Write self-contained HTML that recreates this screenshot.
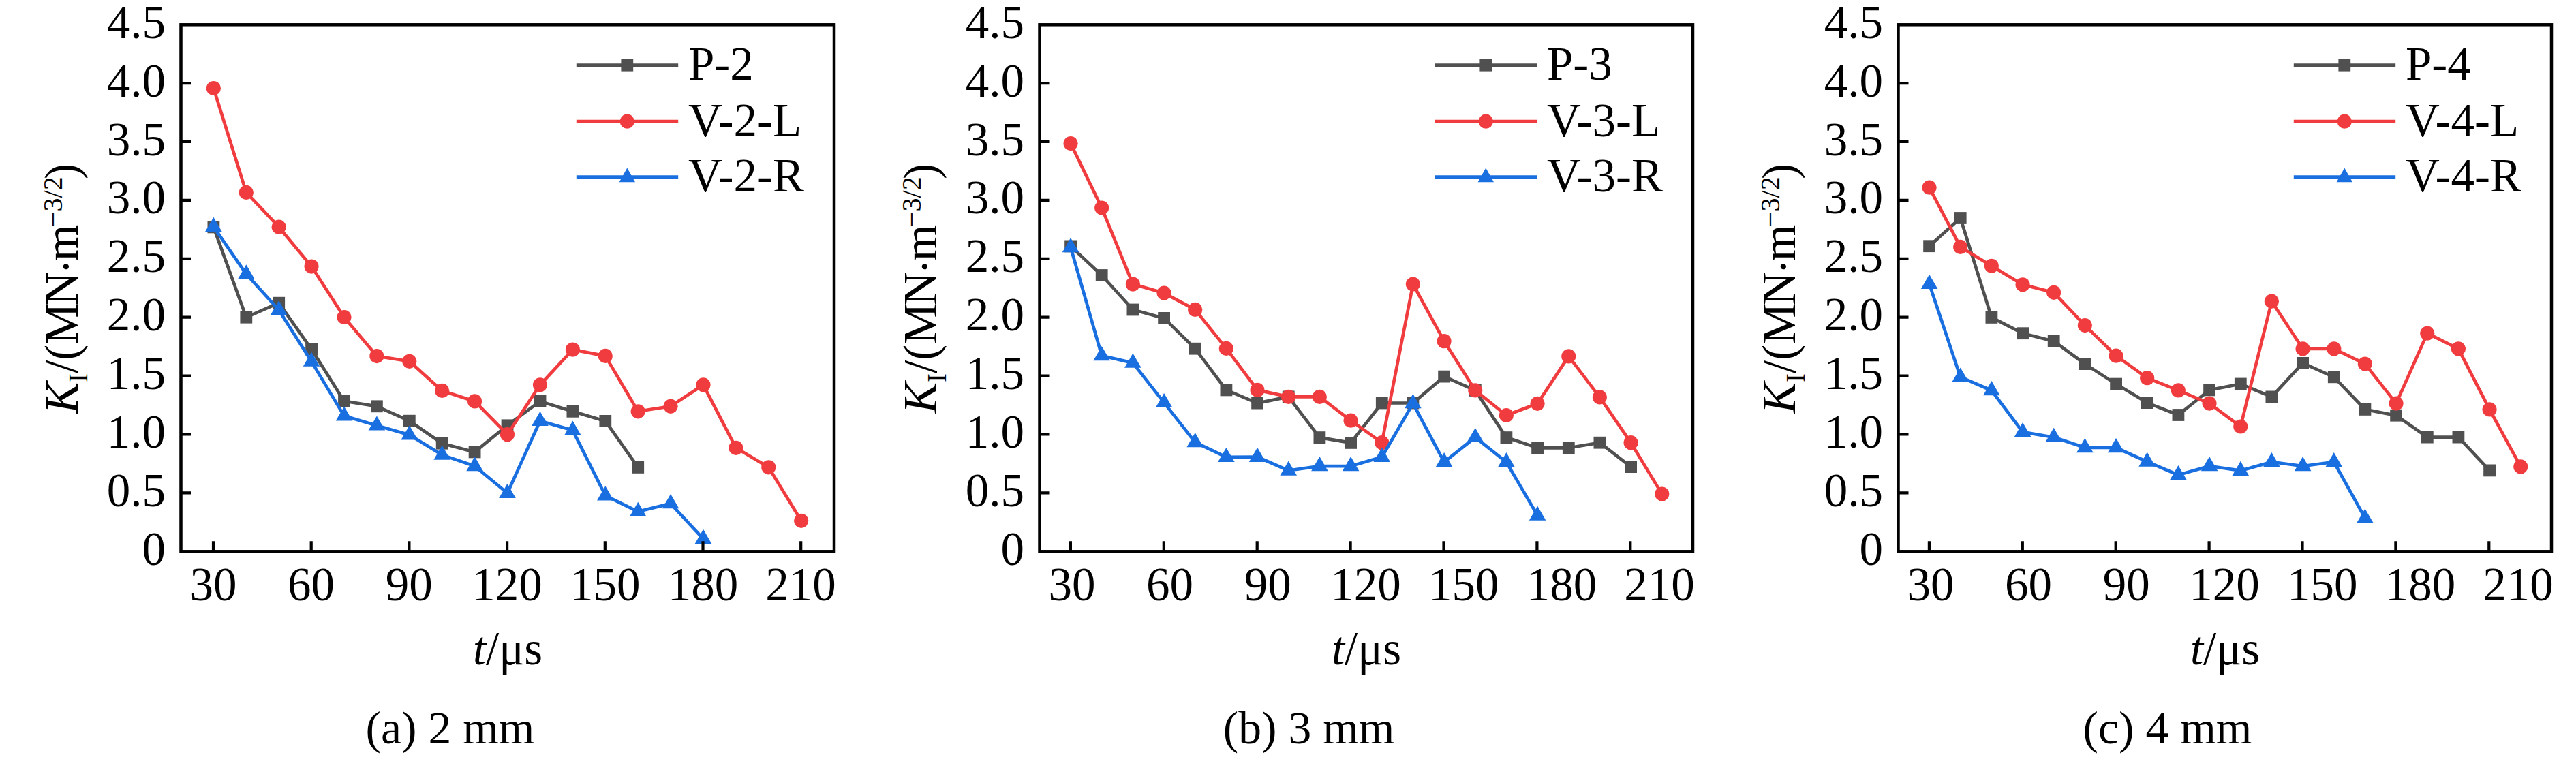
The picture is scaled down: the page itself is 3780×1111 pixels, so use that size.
<!DOCTYPE html>
<html><head><meta charset="utf-8"><style>
html,body{margin:0;padding:0;background:#fff;overflow:hidden}
svg{display:block}
text{font-family:"Liberation Serif", serif;font-size:69px;fill:#000}
</style></head><body>
<svg width="3780" height="1111" viewBox="0 0 3780 1111">
<rect width="3780" height="1111" fill="#fff"/>
<g transform="translate(0,0)">
<path d="M313.4 333.4 L361.3 465.7 L409.2 444.7 L457.1 512.6 L505 588.7 L552.9 596.3 L600.8 617.7 L648.7 650.7 L696.6 663.4 L744.5 624.3 L792.5 588.9 L840.4 603.8 L888.3 617.9 L936.2 685.9" fill="none" stroke="#505050" stroke-width="4.7" stroke-linejoin="round"/>
<rect x="304.5" y="324.5" width="17.8" height="17.8" fill="#505050"/><rect x="352.4" y="456.8" width="17.8" height="17.8" fill="#505050"/><rect x="400.3" y="435.8" width="17.8" height="17.8" fill="#505050"/><rect x="448.2" y="503.7" width="17.8" height="17.8" fill="#505050"/><rect x="496.1" y="579.8" width="17.8" height="17.8" fill="#505050"/><rect x="544" y="587.4" width="17.8" height="17.8" fill="#505050"/><rect x="591.9" y="608.8" width="17.8" height="17.8" fill="#505050"/><rect x="639.8" y="641.8" width="17.8" height="17.8" fill="#505050"/><rect x="687.7" y="654.5" width="17.8" height="17.8" fill="#505050"/><rect x="735.6" y="615.4" width="17.8" height="17.8" fill="#505050"/><rect x="783.6" y="580" width="17.8" height="17.8" fill="#505050"/><rect x="831.5" y="594.9" width="17.8" height="17.8" fill="#505050"/><rect x="879.4" y="609" width="17.8" height="17.8" fill="#505050"/><rect x="927.3" y="677" width="17.8" height="17.8" fill="#505050"/>
<path d="M313.4 129.5 L361.3 282.4 L409.2 333.2 L457.1 391.1 L505 465.5 L552.9 522.6 L600.8 530.3 L648.7 573.4 L696.6 588.9 L744.5 637.7 L792.5 564.8 L840.4 513.1 L888.3 522.4 L936.2 603.8 L984.1 596.3 L1032 564.8 L1079.9 657.3 L1127.8 685.8 L1175.7 764.3" fill="none" stroke="#F03C3E" stroke-width="4.7" stroke-linejoin="round"/>
<circle cx="313.4" cy="129.5" r="10.6" fill="#F03C3E"/><circle cx="361.3" cy="282.4" r="10.6" fill="#F03C3E"/><circle cx="409.2" cy="333.2" r="10.6" fill="#F03C3E"/><circle cx="457.1" cy="391.1" r="10.6" fill="#F03C3E"/><circle cx="505" cy="465.5" r="10.6" fill="#F03C3E"/><circle cx="552.9" cy="522.6" r="10.6" fill="#F03C3E"/><circle cx="600.8" cy="530.3" r="10.6" fill="#F03C3E"/><circle cx="648.7" cy="573.4" r="10.6" fill="#F03C3E"/><circle cx="696.6" cy="588.9" r="10.6" fill="#F03C3E"/><circle cx="744.5" cy="637.7" r="10.6" fill="#F03C3E"/><circle cx="792.5" cy="564.8" r="10.6" fill="#F03C3E"/><circle cx="840.4" cy="513.1" r="10.6" fill="#F03C3E"/><circle cx="888.3" cy="522.4" r="10.6" fill="#F03C3E"/><circle cx="936.2" cy="603.8" r="10.6" fill="#F03C3E"/><circle cx="984.1" cy="596.3" r="10.6" fill="#F03C3E"/><circle cx="1032" cy="564.8" r="10.6" fill="#F03C3E"/><circle cx="1079.9" cy="657.3" r="10.6" fill="#F03C3E"/><circle cx="1127.8" cy="685.8" r="10.6" fill="#F03C3E"/><circle cx="1175.7" cy="764.3" r="10.6" fill="#F03C3E"/>
<path d="M313.4 332.8 L361.3 402.2 L409.2 455 L457.1 530.6 L505 610.4 L552.9 624.4 L600.8 638.3 L648.7 667.6 L696.6 684 L744.5 723.8 L792.5 617.7 L840.4 631.6 L888.3 727.3 L936.2 750.8 L984.1 739.1 L1032 790.8" fill="none" stroke="#1A6FE0" stroke-width="4.7" stroke-linejoin="round"/>
<path d="M313.4 318.8L325.7 340L301.1 340Z" fill="#1A6FE0"/><path d="M361.3 388.2L373.6 409.4L349 409.4Z" fill="#1A6FE0"/><path d="M409.2 441L421.5 462.2L396.9 462.2Z" fill="#1A6FE0"/><path d="M457.1 516.6L469.4 537.8L444.8 537.8Z" fill="#1A6FE0"/><path d="M505 596.4L517.3 617.6L492.7 617.6Z" fill="#1A6FE0"/><path d="M552.9 610.4L565.2 631.6L540.6 631.6Z" fill="#1A6FE0"/><path d="M600.8 624.3L613.1 645.5L588.5 645.5Z" fill="#1A6FE0"/><path d="M648.7 653.6L661 674.8L636.4 674.8Z" fill="#1A6FE0"/><path d="M696.6 670L708.9 691.2L684.3 691.2Z" fill="#1A6FE0"/><path d="M744.5 709.8L756.8 731L732.2 731Z" fill="#1A6FE0"/><path d="M792.5 603.7L804.8 624.9L780.2 624.9Z" fill="#1A6FE0"/><path d="M840.4 617.6L852.7 638.8L828.1 638.8Z" fill="#1A6FE0"/><path d="M888.3 713.3L900.6 734.5L876 734.5Z" fill="#1A6FE0"/><path d="M936.2 736.8L948.5 758L923.9 758Z" fill="#1A6FE0"/><path d="M984.1 725.1L996.4 746.3L971.8 746.3Z" fill="#1A6FE0"/><path d="M1032 776.8L1044.3 798L1019.7 798Z" fill="#1A6FE0"/>
<path d="M265.5 723.4H280.5M265.5 637.5H280.5M265.5 551.6H280.5M265.5 465.7H280.5M265.5 379.8H280.5M265.5 293.9H280.5M265.5 208H280.5M265.5 122.1H280.5M313 809.3V794.3M456.7 809.3V794.3M600.4 809.3V794.3M744.1 809.3V794.3M887.8 809.3V794.3M1031.5 809.3V794.3M1175.2 809.3V794.3" stroke="#000" stroke-width="4.2" fill="none"/>
<rect x="265.5" y="36.3" width="958.5" height="773" fill="none" stroke="#000" stroke-width="4.5"/>
<text x="243" y="828.8" text-anchor="end">0</text>
<text x="243" y="742.9" text-anchor="end">0.5</text>
<text x="243" y="657" text-anchor="end">1.0</text>
<text x="243" y="571.1" text-anchor="end">1.5</text>
<text x="243" y="485.2" text-anchor="end">2.0</text>
<text x="243" y="399.3" text-anchor="end">2.5</text>
<text x="243" y="313.4" text-anchor="end">3.0</text>
<text x="243" y="227.5" text-anchor="end">3.5</text>
<text x="243" y="141.6" text-anchor="end">4.0</text>
<text x="243" y="55.7" text-anchor="end">4.5</text>
<text x="312.9" y="880.5" text-anchor="middle">30</text>
<text x="456.6" y="880.5" text-anchor="middle">60</text>
<text x="600.3" y="880.5" text-anchor="middle">90</text>
<text x="744" y="880.5" text-anchor="middle">120</text>
<text x="887.7" y="880.5" text-anchor="middle">150</text>
<text x="1031.4" y="880.5" text-anchor="middle">180</text>
<text x="1175.1" y="880.5" text-anchor="middle">210</text>
<text x="745" y="975" text-anchor="middle"><tspan font-style="italic">t</tspan>/μs</text>
<text x="660.5" y="1091" text-anchor="middle" style="font-size:67.6px">(a) 2 mm</text>
<text transform="translate(114,607) rotate(-90)"><tspan font-style="italic">K</tspan><tspan font-size="39" dy="14">I</tspan><tspan dy="-14">/(M</tspan><tspan dx="-4">N</tspan><tspan dx="-4" dy="6">·</tspan><tspan dx="-3.5" dy="-6">m</tspan><tspan font-size="40" dx="-3.5" dy="-23">−3/2</tspan><tspan dx="-3.6" dy="23">)</tspan></text>
<path d="M845.8 95.7H995.2" stroke="#505050" stroke-width="4.7"/>
<rect x="911.4" y="86.8" width="17.8" height="17.8" fill="#505050"/>
<text x="1010" y="117">P-2</text>
<path d="M845.8 178.2H995.2" stroke="#F03C3E" stroke-width="4.7"/>
<circle cx="920.3" cy="178.2" r="10.6" fill="#F03C3E"/>
<text x="1010" y="199.5">V-2-L</text>
<path d="M845.8 259.6H995.2" stroke="#1A6FE0" stroke-width="4.7"/>
<path d="M920.3 246.5L932 267.2L908.6 267.2Z" fill="#1A6FE0"/>
<text x="1010" y="281">V-2-R</text>
</g>
<g transform="translate(1260,0)">
<path d="M311.1 361.4 L356.7 404 L402.4 454.5 L448.1 466.9 L493.7 511.7 L539.4 572.4 L585.1 591.6 L630.7 582.4 L676.4 642.1 L722.1 649.9 L767.8 591.5 L813.4 591.5 L859.1 552.6 L904.8 572.9 L950.4 642.1 L996.1 657.3 L1041.8 657.3 L1087.4 649.7 L1133.1 685.1" fill="none" stroke="#505050" stroke-width="4.7" stroke-linejoin="round"/>
<rect x="302.2" y="352.5" width="17.8" height="17.8" fill="#505050"/><rect x="347.8" y="395.1" width="17.8" height="17.8" fill="#505050"/><rect x="393.5" y="445.6" width="17.8" height="17.8" fill="#505050"/><rect x="439.2" y="458" width="17.8" height="17.8" fill="#505050"/><rect x="484.8" y="502.8" width="17.8" height="17.8" fill="#505050"/><rect x="530.5" y="563.5" width="17.8" height="17.8" fill="#505050"/><rect x="576.2" y="582.7" width="17.8" height="17.8" fill="#505050"/><rect x="621.8" y="573.5" width="17.8" height="17.8" fill="#505050"/><rect x="667.5" y="633.2" width="17.8" height="17.8" fill="#505050"/><rect x="713.2" y="641" width="17.8" height="17.8" fill="#505050"/><rect x="758.9" y="582.6" width="17.8" height="17.8" fill="#505050"/><rect x="804.5" y="582.6" width="17.8" height="17.8" fill="#505050"/><rect x="850.2" y="543.7" width="17.8" height="17.8" fill="#505050"/><rect x="895.9" y="564" width="17.8" height="17.8" fill="#505050"/><rect x="941.5" y="633.2" width="17.8" height="17.8" fill="#505050"/><rect x="987.2" y="648.4" width="17.8" height="17.8" fill="#505050"/><rect x="1032.9" y="648.4" width="17.8" height="17.8" fill="#505050"/><rect x="1078.5" y="640.8" width="17.8" height="17.8" fill="#505050"/><rect x="1124.2" y="676.2" width="17.8" height="17.8" fill="#505050"/>
<path d="M311.1 210.6 L356.7 305.1 L402.4 417.1 L448.1 430.1 L493.7 454.4 L539.4 511.4 L585.1 572.4 L630.7 582.4 L676.4 582.4 L722.1 617.2 L767.8 649.7 L813.4 417.1 L859.1 500.7 L904.8 572.9 L950.4 609.5 L996.1 592.3 L1041.8 522.9 L1087.4 582.9 L1133.1 649.7 L1178.8 725.1" fill="none" stroke="#F03C3E" stroke-width="4.7" stroke-linejoin="round"/>
<circle cx="311.1" cy="210.6" r="10.6" fill="#F03C3E"/><circle cx="356.7" cy="305.1" r="10.6" fill="#F03C3E"/><circle cx="402.4" cy="417.1" r="10.6" fill="#F03C3E"/><circle cx="448.1" cy="430.1" r="10.6" fill="#F03C3E"/><circle cx="493.7" cy="454.4" r="10.6" fill="#F03C3E"/><circle cx="539.4" cy="511.4" r="10.6" fill="#F03C3E"/><circle cx="585.1" cy="572.4" r="10.6" fill="#F03C3E"/><circle cx="630.7" cy="582.4" r="10.6" fill="#F03C3E"/><circle cx="676.4" cy="582.4" r="10.6" fill="#F03C3E"/><circle cx="722.1" cy="617.2" r="10.6" fill="#F03C3E"/><circle cx="767.8" cy="649.7" r="10.6" fill="#F03C3E"/><circle cx="813.4" cy="417.1" r="10.6" fill="#F03C3E"/><circle cx="859.1" cy="500.7" r="10.6" fill="#F03C3E"/><circle cx="904.8" cy="572.9" r="10.6" fill="#F03C3E"/><circle cx="950.4" cy="609.5" r="10.6" fill="#F03C3E"/><circle cx="996.1" cy="592.3" r="10.6" fill="#F03C3E"/><circle cx="1041.8" cy="522.9" r="10.6" fill="#F03C3E"/><circle cx="1087.4" cy="582.9" r="10.6" fill="#F03C3E"/><circle cx="1133.1" cy="649.7" r="10.6" fill="#F03C3E"/><circle cx="1178.8" cy="725.1" r="10.6" fill="#F03C3E"/>
<path d="M311.1 363 L356.7 522 L402.4 532.6 L448.1 590.9 L493.7 649.1 L539.4 670.9 L585.1 670.7 L630.7 690.5 L676.4 684.1 L722.1 684.1 L767.8 670.7 L813.4 592.1 L859.1 678.1 L904.8 641.9 L950.4 678.1 L996.1 756.5" fill="none" stroke="#1A6FE0" stroke-width="4.7" stroke-linejoin="round"/>
<path d="M311.1 349L323.4 370.2L298.8 370.2Z" fill="#1A6FE0"/><path d="M356.7 508L369 529.2L344.4 529.2Z" fill="#1A6FE0"/><path d="M402.4 518.6L414.7 539.8L390.1 539.8Z" fill="#1A6FE0"/><path d="M448.1 576.9L460.4 598.1L435.8 598.1Z" fill="#1A6FE0"/><path d="M493.7 635.1L506 656.3L481.4 656.3Z" fill="#1A6FE0"/><path d="M539.4 656.9L551.7 678.1L527.1 678.1Z" fill="#1A6FE0"/><path d="M585.1 656.7L597.4 677.9L572.8 677.9Z" fill="#1A6FE0"/><path d="M630.7 676.5L643 697.7L618.4 697.7Z" fill="#1A6FE0"/><path d="M676.4 670.1L688.7 691.3L664.1 691.3Z" fill="#1A6FE0"/><path d="M722.1 670.1L734.4 691.3L709.8 691.3Z" fill="#1A6FE0"/><path d="M767.8 656.7L780 677.9L755.5 677.9Z" fill="#1A6FE0"/><path d="M813.4 578.1L825.7 599.3L801.1 599.3Z" fill="#1A6FE0"/><path d="M859.1 664.1L871.4 685.3L846.8 685.3Z" fill="#1A6FE0"/><path d="M904.8 627.9L917.1 649.1L892.5 649.1Z" fill="#1A6FE0"/><path d="M950.4 664.1L962.7 685.3L938.1 685.3Z" fill="#1A6FE0"/><path d="M996.1 742.5L1008.4 763.7L983.8 763.7Z" fill="#1A6FE0"/>
<path d="M265.5 723.4H280.5M265.5 637.5H280.5M265.5 551.6H280.5M265.5 465.7H280.5M265.5 379.8H280.5M265.5 293.9H280.5M265.5 208H280.5M265.5 122.1H280.5M310.9 809.3V794.3M447.8 809.3V794.3M584.7 809.3V794.3M721.6 809.3V794.3M858.5 809.3V794.3M995.4 809.3V794.3M1132.3 809.3V794.3" stroke="#000" stroke-width="4.2" fill="none"/>
<rect x="265.5" y="36.3" width="958.5" height="773" fill="none" stroke="#000" stroke-width="4.5"/>
<text x="243" y="828.8" text-anchor="end">0</text>
<text x="243" y="742.9" text-anchor="end">0.5</text>
<text x="243" y="657" text-anchor="end">1.0</text>
<text x="243" y="571.1" text-anchor="end">1.5</text>
<text x="243" y="485.2" text-anchor="end">2.0</text>
<text x="243" y="399.3" text-anchor="end">2.5</text>
<text x="243" y="313.4" text-anchor="end">3.0</text>
<text x="243" y="227.5" text-anchor="end">3.5</text>
<text x="243" y="141.6" text-anchor="end">4.0</text>
<text x="243" y="55.7" text-anchor="end">4.5</text>
<text x="312.9" y="880.5" text-anchor="middle">30</text>
<text x="456.6" y="880.5" text-anchor="middle">60</text>
<text x="600.3" y="880.5" text-anchor="middle">90</text>
<text x="744" y="880.5" text-anchor="middle">120</text>
<text x="887.7" y="880.5" text-anchor="middle">150</text>
<text x="1031.4" y="880.5" text-anchor="middle">180</text>
<text x="1175.1" y="880.5" text-anchor="middle">210</text>
<text x="745" y="975" text-anchor="middle"><tspan font-style="italic">t</tspan>/μs</text>
<text x="660.5" y="1091" text-anchor="middle" style="font-size:67.6px">(b) 3 mm</text>
<text transform="translate(114,607) rotate(-90)"><tspan font-style="italic">K</tspan><tspan font-size="39" dy="14">I</tspan><tspan dy="-14">/(M</tspan><tspan dx="-4">N</tspan><tspan dx="-4" dy="6">·</tspan><tspan dx="-3.5" dy="-6">m</tspan><tspan font-size="40" dx="-3.5" dy="-23">−3/2</tspan><tspan dx="-3.6" dy="23">)</tspan></text>
<path d="M845.8 95.7H995.2" stroke="#505050" stroke-width="4.7"/>
<rect x="911.4" y="86.8" width="17.8" height="17.8" fill="#505050"/>
<text x="1010" y="117">P-3</text>
<path d="M845.8 178.2H995.2" stroke="#F03C3E" stroke-width="4.7"/>
<circle cx="920.3" cy="178.2" r="10.6" fill="#F03C3E"/>
<text x="1010" y="199.5">V-3-L</text>
<path d="M845.8 259.6H995.2" stroke="#1A6FE0" stroke-width="4.7"/>
<path d="M920.3 246.5L932 267.2L908.6 267.2Z" fill="#1A6FE0"/>
<text x="1010" y="281">V-3-R</text>
</g>
<g transform="translate(2520,0)">
<path d="M311.1 361.2 L356.7 320 L402.4 465.9 L448.1 489.2 L493.7 500.7 L539.4 534.1 L585.1 563.6 L630.7 591.1 L676.4 609 L722.1 572.4 L767.8 563.5 L813.4 582.4 L859.1 532.9 L904.8 553.3 L950.4 600.9 L996.1 609.7 L1041.8 641.6 L1087.4 641.6 L1133.1 690.4" fill="none" stroke="#505050" stroke-width="4.7" stroke-linejoin="round"/>
<rect x="302.2" y="352.3" width="17.8" height="17.8" fill="#505050"/><rect x="347.8" y="311.1" width="17.8" height="17.8" fill="#505050"/><rect x="393.5" y="457" width="17.8" height="17.8" fill="#505050"/><rect x="439.2" y="480.3" width="17.8" height="17.8" fill="#505050"/><rect x="484.8" y="491.8" width="17.8" height="17.8" fill="#505050"/><rect x="530.5" y="525.2" width="17.8" height="17.8" fill="#505050"/><rect x="576.2" y="554.7" width="17.8" height="17.8" fill="#505050"/><rect x="621.8" y="582.2" width="17.8" height="17.8" fill="#505050"/><rect x="667.5" y="600.1" width="17.8" height="17.8" fill="#505050"/><rect x="713.2" y="563.5" width="17.8" height="17.8" fill="#505050"/><rect x="758.9" y="554.6" width="17.8" height="17.8" fill="#505050"/><rect x="804.5" y="573.5" width="17.8" height="17.8" fill="#505050"/><rect x="850.2" y="524" width="17.8" height="17.8" fill="#505050"/><rect x="895.9" y="544.4" width="17.8" height="17.8" fill="#505050"/><rect x="941.5" y="592" width="17.8" height="17.8" fill="#505050"/><rect x="987.2" y="600.8" width="17.8" height="17.8" fill="#505050"/><rect x="1032.9" y="632.7" width="17.8" height="17.8" fill="#505050"/><rect x="1078.5" y="632.7" width="17.8" height="17.8" fill="#505050"/><rect x="1124.2" y="681.5" width="17.8" height="17.8" fill="#505050"/>
<path d="M311.1 275.2 L356.7 362.4 L402.4 390.3 L448.1 417.8 L493.7 429.3 L539.4 477.6 L585.1 522.2 L630.7 554.7 L676.4 572.9 L722.1 592.1 L767.8 626 L813.4 442.2 L859.1 511.9 L904.8 511.9 L950.4 534.1 L996.1 592.1 L1041.8 489.2 L1087.4 511.9 L1133.1 600.9 L1178.8 684.9" fill="none" stroke="#F03C3E" stroke-width="4.7" stroke-linejoin="round"/>
<circle cx="311.1" cy="275.2" r="10.6" fill="#F03C3E"/><circle cx="356.7" cy="362.4" r="10.6" fill="#F03C3E"/><circle cx="402.4" cy="390.3" r="10.6" fill="#F03C3E"/><circle cx="448.1" cy="417.8" r="10.6" fill="#F03C3E"/><circle cx="493.7" cy="429.3" r="10.6" fill="#F03C3E"/><circle cx="539.4" cy="477.6" r="10.6" fill="#F03C3E"/><circle cx="585.1" cy="522.2" r="10.6" fill="#F03C3E"/><circle cx="630.7" cy="554.7" r="10.6" fill="#F03C3E"/><circle cx="676.4" cy="572.9" r="10.6" fill="#F03C3E"/><circle cx="722.1" cy="592.1" r="10.6" fill="#F03C3E"/><circle cx="767.8" cy="626" r="10.6" fill="#F03C3E"/><circle cx="813.4" cy="442.2" r="10.6" fill="#F03C3E"/><circle cx="859.1" cy="511.9" r="10.6" fill="#F03C3E"/><circle cx="904.8" cy="511.9" r="10.6" fill="#F03C3E"/><circle cx="950.4" cy="534.1" r="10.6" fill="#F03C3E"/><circle cx="996.1" cy="592.1" r="10.6" fill="#F03C3E"/><circle cx="1041.8" cy="489.2" r="10.6" fill="#F03C3E"/><circle cx="1087.4" cy="511.9" r="10.6" fill="#F03C3E"/><circle cx="1133.1" cy="600.9" r="10.6" fill="#F03C3E"/><circle cx="1178.8" cy="684.9" r="10.6" fill="#F03C3E"/>
<path d="M311.1 416.8 L356.7 553.4 L402.4 573 L448.1 634.1 L493.7 641.7 L539.4 657 L585.1 657 L630.7 677.6 L676.4 697 L722.1 684 L767.8 690.7 L813.4 678 L859.1 684 L904.8 678 L950.4 760.4" fill="none" stroke="#1A6FE0" stroke-width="4.7" stroke-linejoin="round"/>
<path d="M311.1 402.8L323.4 424L298.8 424Z" fill="#1A6FE0"/><path d="M356.7 539.4L369 560.6L344.4 560.6Z" fill="#1A6FE0"/><path d="M402.4 559L414.7 580.2L390.1 580.2Z" fill="#1A6FE0"/><path d="M448.1 620.1L460.4 641.3L435.8 641.3Z" fill="#1A6FE0"/><path d="M493.7 627.7L506 648.9L481.4 648.9Z" fill="#1A6FE0"/><path d="M539.4 643L551.7 664.2L527.1 664.2Z" fill="#1A6FE0"/><path d="M585.1 643L597.4 664.2L572.8 664.2Z" fill="#1A6FE0"/><path d="M630.7 663.6L643 684.8L618.4 684.8Z" fill="#1A6FE0"/><path d="M676.4 683L688.7 704.2L664.1 704.2Z" fill="#1A6FE0"/><path d="M722.1 670L734.4 691.2L709.8 691.2Z" fill="#1A6FE0"/><path d="M767.8 676.7L780 697.9L755.5 697.9Z" fill="#1A6FE0"/><path d="M813.4 664L825.7 685.2L801.1 685.2Z" fill="#1A6FE0"/><path d="M859.1 670L871.4 691.2L846.8 691.2Z" fill="#1A6FE0"/><path d="M904.8 664L917.1 685.2L892.5 685.2Z" fill="#1A6FE0"/><path d="M950.4 746.4L962.7 767.6L938.1 767.6Z" fill="#1A6FE0"/>
<path d="M265.5 723.4H280.5M265.5 637.5H280.5M265.5 551.6H280.5M265.5 465.7H280.5M265.5 379.8H280.5M265.5 293.9H280.5M265.5 208H280.5M265.5 122.1H280.5M310.9 809.3V794.3M447.8 809.3V794.3M584.7 809.3V794.3M721.6 809.3V794.3M858.5 809.3V794.3M995.4 809.3V794.3M1132.3 809.3V794.3" stroke="#000" stroke-width="4.2" fill="none"/>
<rect x="265.5" y="36.3" width="958.5" height="773" fill="none" stroke="#000" stroke-width="4.5"/>
<text x="243" y="828.8" text-anchor="end">0</text>
<text x="243" y="742.9" text-anchor="end">0.5</text>
<text x="243" y="657" text-anchor="end">1.0</text>
<text x="243" y="571.1" text-anchor="end">1.5</text>
<text x="243" y="485.2" text-anchor="end">2.0</text>
<text x="243" y="399.3" text-anchor="end">2.5</text>
<text x="243" y="313.4" text-anchor="end">3.0</text>
<text x="243" y="227.5" text-anchor="end">3.5</text>
<text x="243" y="141.6" text-anchor="end">4.0</text>
<text x="243" y="55.7" text-anchor="end">4.5</text>
<text x="312.9" y="880.5" text-anchor="middle">30</text>
<text x="456.6" y="880.5" text-anchor="middle">60</text>
<text x="600.3" y="880.5" text-anchor="middle">90</text>
<text x="744" y="880.5" text-anchor="middle">120</text>
<text x="887.7" y="880.5" text-anchor="middle">150</text>
<text x="1031.4" y="880.5" text-anchor="middle">180</text>
<text x="1175.1" y="880.5" text-anchor="middle">210</text>
<text x="745" y="975" text-anchor="middle"><tspan font-style="italic">t</tspan>/μs</text>
<text x="660.5" y="1091" text-anchor="middle" style="font-size:67.6px">(c) 4 mm</text>
<text transform="translate(114,607) rotate(-90)"><tspan font-style="italic">K</tspan><tspan font-size="39" dy="14">I</tspan><tspan dy="-14">/(M</tspan><tspan dx="-4">N</tspan><tspan dx="-4" dy="6">·</tspan><tspan dx="-3.5" dy="-6">m</tspan><tspan font-size="40" dx="-3.5" dy="-23">−3/2</tspan><tspan dx="-3.6" dy="23">)</tspan></text>
<path d="M845.8 95.7H995.2" stroke="#505050" stroke-width="4.7"/>
<rect x="911.4" y="86.8" width="17.8" height="17.8" fill="#505050"/>
<text x="1010" y="117">P-4</text>
<path d="M845.8 178.2H995.2" stroke="#F03C3E" stroke-width="4.7"/>
<circle cx="920.3" cy="178.2" r="10.6" fill="#F03C3E"/>
<text x="1010" y="199.5">V-4-L</text>
<path d="M845.8 259.6H995.2" stroke="#1A6FE0" stroke-width="4.7"/>
<path d="M920.3 246.5L932 267.2L908.6 267.2Z" fill="#1A6FE0"/>
<text x="1010" y="281">V-4-R</text>
</g>
</svg></body></html>
